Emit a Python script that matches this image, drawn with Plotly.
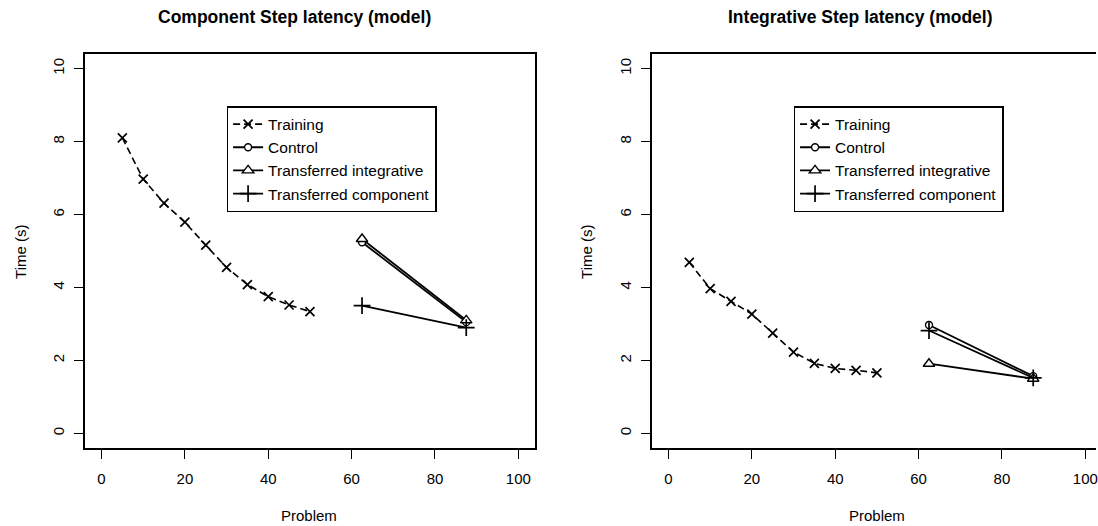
import plotly.graph_objects as go

# ---- data ----
series_names = ["Training", "Control", "Transferred integrative", "Transferred component"]

train_problems = [5, 10, 15, 20, 25, 30, 35, 40, 45, 50]
transfer_problems = [62.5, 87.5]

# Component step latency (model)
comp_training = [8.10, 6.97, 6.31, 5.79, 5.16, 4.55, 4.08, 3.75, 3.52, 3.34]
comp_control = [5.24, 3.05]
comp_trans_integrative = [5.33, 3.10]
comp_trans_component = [3.50, 2.90]

# Integrative step latency (model)
integ_training = [4.69, 3.97, 3.62, 3.27, 2.75, 2.23, 1.92, 1.78, 1.73, 1.66]
integ_control = [2.97, 1.57]
integ_trans_integrative = [1.91, 1.50]
integ_trans_component = [2.82, 1.52]

x_ticks = [0, 20, 40, 60, 80, 100]
y_ticks = [0, 2, 4, 6, 8, 10]

panel_titles = ["Component Step latency (model)", "Integrative Step latency (model)"]
x_title = "Problem"
y_title = "Time (s)"

# ---- page geometry (pixels) ----
W, H = 1098, 526
FONT = "Liberation Sans, Arial, Helvetica, sans-serif"

def px(v):
    return v / W

def py(v):
    return 1 - v / H

marker_styles = [
    dict(symbol="x-thin-open", size=9, line=dict(width=1.7, color="black")),
    dict(symbol="circle", size=7, color="white", line=dict(width=1.4, color="black")),
    dict(symbol="triangle-up", size=10, color="white", line=dict(width=1.4, color="black")),
    dict(symbol="cross-thin-open", size=12, line=dict(width=1.7, color="black")),
]

fig = go.Figure()

panels = [
    ("x", "y", "legend", [comp_training, comp_control, comp_trans_integrative, comp_trans_component]),
    ("x2", "y2", "legend2", [integ_training, integ_control, integ_trans_integrative, integ_trans_component]),
]

for xa, ya, lg, data in panels:
    for i, (name, vals) in enumerate(zip(series_names, data)):
        xs = train_problems if i == 0 else transfer_problems
        fig.add_trace(go.Scatter(
            x=xs, y=vals, name=name, mode="lines+markers",
            xaxis=xa, yaxis=ya, legend=lg,
            line=dict(color="black", width=1.6 if i == 0 else 1.8,
                      dash="7px,4px" if i == 0 else "solid"),
            marker=marker_styles[i],
            cliponaxis=False,
        ))

axis_font = dict(family=FONT, size=15, color="black")

common_x = dict(
    range=[-4, 104], tickvals=x_ticks, ticks="outside", ticklen=9, tickwidth=1,
    tickcolor="black", showline=True, linecolor="black", linewidth=1.5,
    showgrid=False, zeroline=False, tickfont=axis_font, ticklabelstandoff=7,
    ticklabeloverflow="allow",
)
common_y = dict(
    range=[-0.4, 10.4], tickvals=y_ticks, ticks="outside", ticklen=9, tickwidth=1,
    tickcolor="black", showline=True, linecolor="black", linewidth=1.5,
    showgrid=False, zeroline=False, tickfont=axis_font, tickangle=-90,
    ticklabelstandoff=4,
)

y_dom = [py(448), py(54)]

legend_style = dict(
    xanchor="left", yanchor="top", bordercolor="black", borderwidth=1.5,
    bgcolor="white", font=dict(family=FONT, size=15.5, color="black"),
    traceorder="normal",
)

fig.update_layout(
    width=W, height=H,
    margin=dict(l=0, r=0, t=0, b=0),
    paper_bgcolor="white", plot_bgcolor="white",
    font=dict(family=FONT, color="black"),
    xaxis=dict(common_x, domain=[px(85), px(536)], anchor="y", mirror=True),
    yaxis=dict(common_y, domain=y_dom, anchor="x", mirror=True),
    xaxis2=dict(common_x, domain=[px(653), 1.0], anchor="y2", mirror=True,
                range=[-4, -4 + (W - 653) * 108 / 451]),
    yaxis2=dict(common_y, domain=y_dom, anchor="x2"),
    legend=dict(legend_style, x=px(227), y=py(106)),
    legend2=dict(legend_style, x=px(795), y=py(106)),
)

# panel titles and axis titles
title_font = dict(family=FONT, size=17.5, color="black")
label_font = dict(family=FONT, size=15, color="black")
annots = [
    dict(text="<b>%s</b>" % panel_titles[0], x=px(295), y=py(17), font=title_font),
    dict(text="<b>%s</b>" % panel_titles[1], x=px(862), y=py(17), font=title_font),
    dict(text=x_title, x=px(310), y=py(515), font=label_font),
    dict(text=x_title, x=px(879), y=py(515), font=label_font),
    dict(text=y_title, x=px(20), y=py(252), font=label_font, textangle=-90),
    dict(text=y_title, x=px(587), y=py(252), font=label_font, textangle=-90),
]
for a in annots:
    fig.add_annotation(xref="paper", yref="paper", showarrow=False,
                       xanchor="center", yanchor="middle", **a)

fig.write_html("out.html")
